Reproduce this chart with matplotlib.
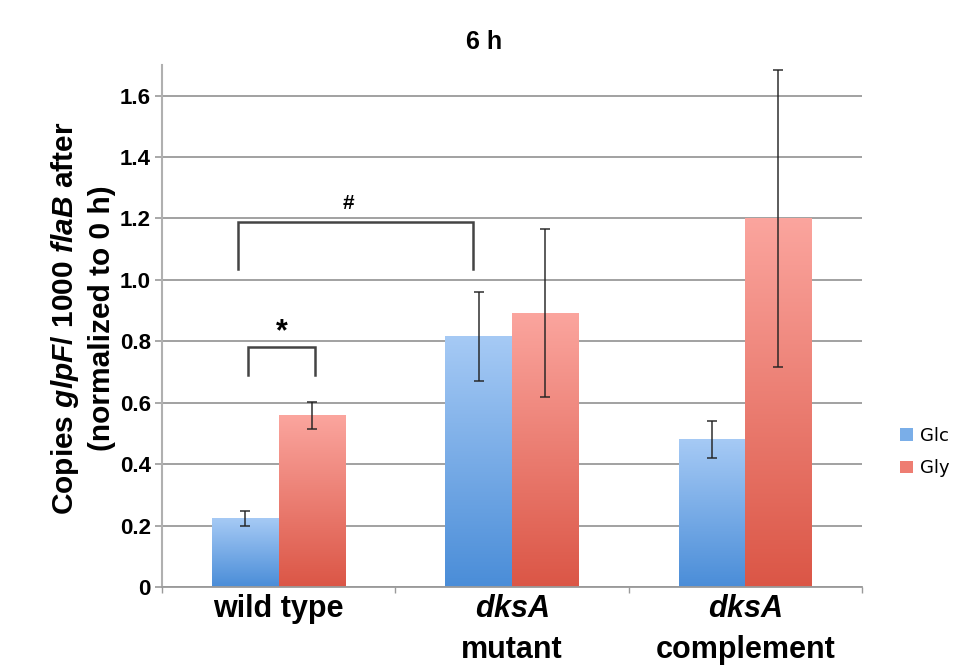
import numpy as np
import matplotlib
matplotlib.use("Agg")
import matplotlib.pyplot as plt
from matplotlib.colors import LinearSegmentedColormap
from matplotlib.patches import Patch

plt.rcParams["font.family"] = ["Liberation Sans", "DejaVu Sans"]
plt.rcParams["mathtext.fontset"] = "custom"
plt.rcParams["mathtext.it"] = "Liberation Sans:italic:bold"
plt.rcParams["mathtext.rm"] = "Liberation Sans:bold"

strains = ["wild type", "$\\mathit{dksA}$\nmutant", "$\\mathit{dksA}$\ncomplement"]
glc = [0.223, 0.815, 0.48]
glc_err = [0.023, 0.145, 0.06]
gly = [0.558, 0.892, 1.2]
gly_err = [0.045, 0.275, 0.483]
yticks = [0, 0.2, 0.4, 0.6, 0.8, 1.0, 1.2, 1.4, 1.6]
ytick_labels = ["0", "0.2", "0.4", "0.6", "0.8", "1.0", "1.2", "1.4", "1.6"]

GLC_TOP, GLC_BOTTOM = "#a6caf5", "#4a8dd8"
GLY_TOP, GLY_BOTTOM = "#fba59e", "#db5646"
GRID = "#9a9a9a"


def fill_gradient(ax, bars, top, bottom):
    cmap = LinearSegmentedColormap.from_list("bar", [bottom, top])
    grad = np.linspace(0, 1, 256).reshape(-1, 1)
    for bar in bars:
        x0, y0 = bar.get_x(), bar.get_y()
        ax.imshow(grad, extent=(x0, x0 + bar.get_width(), y0, y0 + bar.get_height()),
                  origin="lower", cmap=cmap, aspect="auto", zorder=2,
                  interpolation="bilinear")


def bracket(ax, x0, x1, y_low, y_high, label, label_y, label_x=None, size=14):
    ax.plot([x0, x0, x1, x1], [y_low, y_high, y_high, y_low], color="#444444",
            lw=1.8, zorder=4, solid_joinstyle="miter")
    if label_x is None:
        label_x = (x0 + x1) / 2
    ax.text(label_x, label_y, label, ha="center", va="center", fontsize=size,
            fontweight="bold", zorder=4)


fig = plt.figure(figsize=(9.69, 6.7), dpi=100)
ax = fig.add_axes([0.167, 0.124, 0.7225, 0.779])

x = np.arange(len(strains))
width = 0.285

glc_bars = ax.bar(x - width / 2, glc, width, color="none", edgecolor="none", zorder=2)
gly_bars = ax.bar(x + width / 2, gly, width, color="none", edgecolor="none", zorder=2)
fill_gradient(ax, glc_bars, GLC_TOP, GLC_BOTTOM)
fill_gradient(ax, gly_bars, GLY_TOP, GLY_BOTTOM)

err_style = dict(fmt="none", ecolor="#222222", alpha=0.8, elinewidth=1.3,
                 capsize=3.3, capthick=1.3, zorder=3)
ax.errorbar(x - width / 2, glc, yerr=glc_err, **err_style)
ax.errorbar(x + width / 2, gly, yerr=gly_err, **err_style)

# significance marks
bracket(ax, -0.13, 0.155, 0.69, 0.78, "*", 0.83, size=22)
bracket(ax, -0.175, 0.833, 1.035, 1.19, "#", 1.25, label_x=0.30, size=15)

ax.set_xlim(-0.5, 2.5)
ax.set_ylim(0, 1.7)

ax.set_yticks(yticks)
ax.set_yticklabels(ytick_labels, fontsize=16, fontweight="bold")
ax.yaxis.grid(True, color=GRID, lw=1.3, zorder=0)
ax.set_axisbelow(True)
ax.tick_params(axis="y", length=5, width=1.2, color=GRID, pad=3)

ax.set_xticks(x)
ax.set_xticklabels(strains, fontsize=22, fontweight="bold", linespacing=1.5)
ax.set_xticks([-0.5, 0.5, 1.5, 2.5], minor=True)
ax.tick_params(axis="x", which="major", length=0, pad=5)
ax.tick_params(axis="x", which="minor", length=4, width=1.0, color=GRID)

for side in ("top", "right"):
    ax.spines[side].set_visible(False)
ax.spines["left"].set_color("#b0b0b0")
ax.spines["left"].set_linewidth(1.5)
ax.spines["bottom"].set_color(GRID)
ax.spines["bottom"].set_linewidth(1.3)

fig.text(0.085, 0.525,
         "Copies $\\mathit{glpF}$/ 1000 $\\mathit{flaB}$ after\n(normalized to 0 h)",
         rotation=90, ha="center", va="center", fontsize=21.5, fontweight="bold",
         multialignment="center", linespacing=1.3)

fig.text(0.5, 0.937, "6 h", ha="center", va="center", fontsize=18, fontweight="bold")

handles = [Patch(facecolor="#7aaee8", label="Glc"),
           Patch(facecolor="#ee7d72", label="Gly")]
fig.legend(handles=handles, loc="center left", bbox_to_anchor=(0.929, 0.325),
           frameon=False, handlelength=0.7, handleheight=0.7,
           handletextpad=0.4, labelspacing=0.8, borderaxespad=0, borderpad=0,
           prop={"family": "DejaVu Sans", "size": 13})

fig.savefig("out.png", dpi=100)
